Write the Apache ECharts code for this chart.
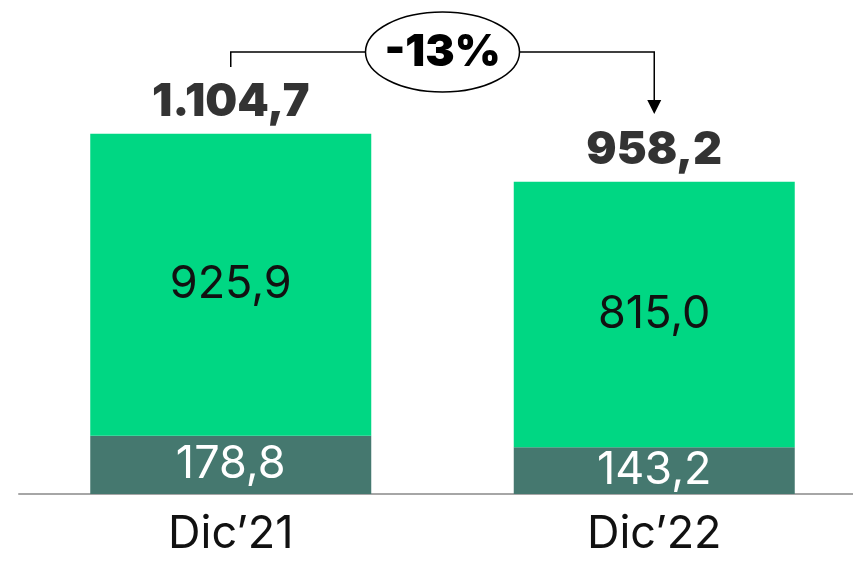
<!DOCTYPE html>
<html>
<head>
<meta charset="utf-8">
<script src="https://cdn.jsdelivr.net/npm/echarts@6/dist/echarts.min.js"></script>
<style>html,body{margin:0;padding:0;background:#fff;overflow:hidden;width:853px;height:563px}#c{width:866px;height:563px}</style>
</head>
<body>
<div id="c"></div>
<script>
var categories = ['Dic\u201921', 'Dic\u201922'];
var baseValues = [178.8, 143.2];
var topValues = [925.9, 815.0];
var totals = [1104.7, 958.2];
var changeLabel = '-13%';

var FONT = 'Inter, "Noto Sans", sans-serif';
function fmt(v) {
  var s = v.toFixed(1).split('.');
  var intPart = s[0].replace(/\B(?=(\d{3})+(?!\d))/g, '.');
  return intPart + ',' + s[1];
}

var chart = echarts.init(document.getElementById('c'));
var option = {
  animation: false,
  grid: { left: 19, right: 0, top: 5, bottom: 69, containLabel: false },
  xAxis: {
    type: 'category', data: categories,
    axisLine: { show: true, lineStyle: { color: '#a6a6a6', width: 2 } },
    axisTick: { show: false },
    axisLabel: { color: '#111', fontSize: 45, fontFamily: FONT, margin: 18 }
  },
  yAxis: { type: 'value', min: 0, max: 1500, show: false, splitLine: { show: false } },
  series: [
    {
      type: 'bar', stack: 's', data: baseValues, barWidth: 281,
      itemStyle: { color: '#45786f' },
      label: { show: true, position: 'inside', color: '#fff', fontSize: 45, fontFamily: FONT, formatter: function (p) { return fmt(p.value); } }
    },
    {
      type: 'bar', stack: 's', data: topValues, barWidth: 281,
      itemStyle: { color: '#00d783' },
      label: { show: true, position: 'inside', color: '#111', fontSize: 45, fontFamily: FONT, formatter: function (p) { return fmt(p.value); } }
    },
    {
      type: 'scatter', data: totals, symbolSize: 0.001,
      label: { show: true, position: 'top', distance: 9, color: '#000', fontSize: 45, fontWeight: 900, fontFamily: FONT, formatter: function (p) { return fmt(p.value); } }
    }
  ]
};
chart.setOption(option);

var p0 = chart.convertToPixel({ xAxisIndex: 0, yAxisIndex: 0 }, [0, totals[0]]);
var p1 = chart.convertToPixel({ xAxisIndex: 0, yAxisIndex: 0 }, [1, totals[1]]);
var lineY = 52;
var cx = (p0[0] + p1[0]) / 2;
var rx = 77, ry = 40;
chart.setOption({
  graphic: [
    { type: 'polyline', shape: { points: [[p0[0], 67], [p0[0], lineY], [cx - rx, lineY]] }, style: { stroke: '#000', lineWidth: 1.5, fill: null } },
    { type: 'polyline', shape: { points: [[cx + rx, lineY], [p1[0], lineY], [p1[0], 102]] }, style: { stroke: '#000', lineWidth: 1.5, fill: null } },
    { type: 'polygon', shape: { points: [[p1[0] - 7, 100], [p1[0] + 7, 100], [p1[0], 114]] }, style: { fill: '#000' } },
    { type: 'ellipse', shape: { cx: cx, cy: lineY, rx: rx, ry: ry }, style: { fill: '#fff', stroke: '#000', lineWidth: 1.5 } },
    { type: 'text', x: cx, y: lineY + 1, style: { text: changeLabel, fontSize: 44, fontWeight: 900, fontFamily: FONT, fill: '#000', align: 'center', verticalAlign: 'middle' } }
  ]
});
</script>
</body>
</html>
